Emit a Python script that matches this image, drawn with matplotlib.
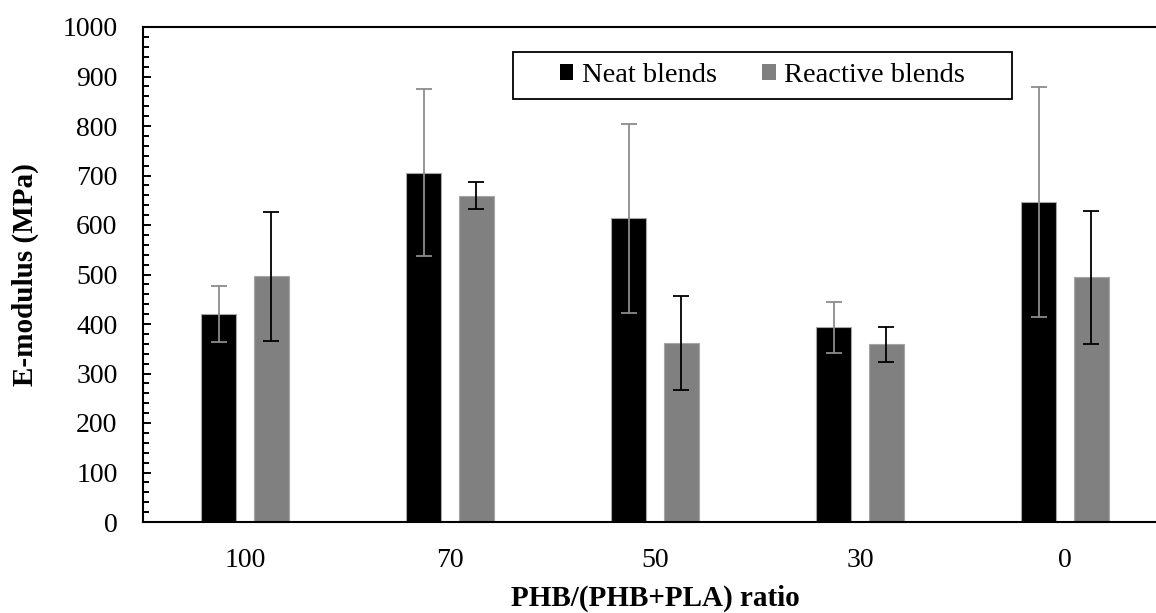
import matplotlib
matplotlib.use("Agg")
import matplotlib.pyplot as plt
import numpy as np
from matplotlib.patches import Patch, Rectangle

plt.rcParams["font.family"] = ["Liberation Serif", "DejaVu Serif"]

# PHB fraction in the blend (%) and measured E-modulus (MPa)
ratios = ["100", "70", "50", "30", "0"]
neat_mean = [420, 706, 614, 393, 646]
neat_err = [57, 169, 191, 51, 232]
reactive_mean = [496, 659, 362, 359, 494]
reactive_err = [130, 27, 95, 35, 134]
series_names = ["Neat blends", "Reactive blends"]

W, H, DPI = 1156, 613, 100
fig = plt.figure(figsize=(W / DPI, H / DPI), dpi=DPI)

# plot area (pixel box converted to figure fractions); right side runs past the canvas
left_px, right_px, top_px, bottom_px = 142.5, 1167.5, 27, 522
ax = fig.add_axes([left_px / W, 1 - bottom_px / H,
                   (right_px - left_px) / W, (bottom_px - top_px) / H])

x = np.arange(len(ratios))
bar_w = 0.171
offset = 0.127
gray = "#808080"
edge = "#a6a6a6"

ax.bar(x - offset, neat_mean, bar_w, color="black", edgecolor=edge, linewidth=0.8, zorder=2)
ax.bar(x + offset, reactive_mean, bar_w, color=gray, edgecolor=edge, linewidth=0.8, zorder=2)
ax.errorbar(x - offset, neat_mean, yerr=neat_err, fmt="none", ecolor="#8c8c8c",
            elinewidth=1.3, capsize=6, capthick=1.3, zorder=3)
ax.errorbar(x + offset, reactive_mean, yerr=reactive_err, fmt="none", ecolor="black",
            elinewidth=1.3, capsize=6, capthick=1.3, zorder=3)

ax.set_xlim(-0.5, len(ratios) - 0.5)
ax.set_ylim(0, 1000)
ax.set_yticks(np.arange(0, 1001, 100))
ax.set_yticks(np.arange(0, 1001, 20), minor=True)
ax.set_xticks(x)
ax.set_xticklabels(ratios)

ax.tick_params(axis="y", which="major", direction="in", length=6, width=1.4,
               labelsize=20, pad=18)
ax.tick_params(axis="y", which="minor", direction="in", length=4.2, width=1.4)
ax.tick_params(axis="x", which="both", length=0, labelsize=20, pad=19)

for side in ["left", "bottom", "top", "right"]:
    ax.spines[side].set_linewidth(1.5)
    ax.spines[side].set_color("black")

ax.set_ylabel("E-modulus (MPa)", fontsize=21, fontweight="bold", labelpad=17)
ax.set_xlabel("PHB/(PHB+PLA) ratio", fontsize=21, fontweight="bold", labelpad=8)

# legend with a square-cornered frame
handles = [Patch(facecolor="black", edgecolor="none"),
           Patch(facecolor=gray, edgecolor="none")]
box_l, box_r, box_t, box_b = 513, 1012, 52, 99
leg = fig.legend(handles, series_names, ncol=2, frameon=False, fontsize=20.5,
                 handlelength=0.47, handleheight=0.47, handletextpad=0.3,
                 columnspacing=1.6, loc="center",
                 bbox_to_anchor=((box_l + box_r) / 2 / W, 1 - (box_t + box_b) / 2 / H))
fig.patches.append(Rectangle((box_l / W, 1 - box_b / H), (box_r - box_l) / W,
                             (box_b - box_t) / H, transform=fig.transFigure,
                             facecolor="white", edgecolor="black", linewidth=1.3,
                             zorder=4))
leg.set_zorder(5)

fig.savefig("out.png", dpi=DPI)
